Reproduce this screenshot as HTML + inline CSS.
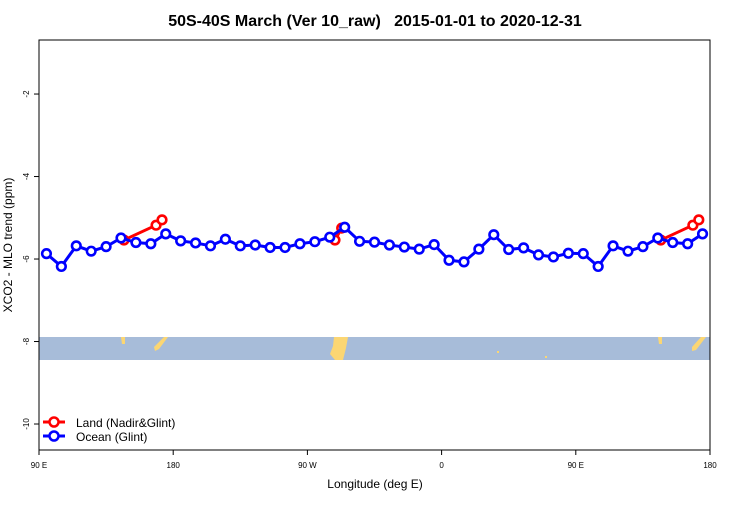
<!DOCTYPE html>
<html><head><meta charset="utf-8"><style>
body{margin:0;background:#fff;}
svg{font-family:"Liberation Sans",sans-serif;}
</style></head><body>
<svg id="chart" width="750" height="500">
<text x="375" y="26" text-anchor="middle" font-size="16" font-weight="bold" style="white-space:pre">50S-40S March (Ver 10_raw)   2015-01-01 to 2020-12-31</text>
<g>
<rect x="39" y="337" width="671" height="23" fill="#a7bcd9"/>
<polygon points="121,337 125,337 125,344 122,344" fill="#fbd673"/>
<polygon points="164,337 168,337 159,349 155,351 154,347" fill="#fbd673"/>
<polygon points="334,337 348,337 346,348 343,360 335,360 330,354 333,346" fill="#fbd673"/>
<polygon points="658,337 662,337 662,344 659,344" fill="#fbd673"/>
<polygon points="701,337 706,337 696,350 692,351 692,347" fill="#fbd673"/>
<rect x="497" y="351" width="2" height="2" fill="#fbd673"/>
<rect x="545" y="356" width="2" height="2" fill="#fbd673"/>
</g>
<rect x="39" y="40" width="671" height="410" fill="none" stroke="#000" stroke-width="1"/>
<g id="axes"></g>
<g id="series"></g>
<g>
<g>
<line x1="43" y1="422" x2="65" y2="422" stroke="#f00" stroke-width="3"/>
<circle cx="54" cy="422" r="4.5" fill="#fff" stroke="#f00" stroke-width="2.5"/>
<text x="76" y="427" font-size="12">Land (Nadir&amp;Glint)</text>
</g>
<g>
<line x1="43" y1="436" x2="65" y2="436" stroke="#00f" stroke-width="3"/>
<circle cx="54" cy="436" r="4.5" fill="#fff" stroke="#00f" stroke-width="2.5"/>
<text x="76" y="441" font-size="12">Ocean (Glint)</text>
</g>
</g>
<text x="375" y="488" text-anchor="middle" font-size="12">Longitude (deg E)</text>
<text transform="translate(12,245) rotate(-90)" text-anchor="middle" font-size="12">XCO2 - MLO trend (ppm)</text>
</svg>
<script>
const xTickVals=[90,180,270,360,450,540];
const xTickLabels=["90 E","180","90 W","0","90 E","180"];
const yTickVals=[-2,-4,-6,-8,-10];
const yTickLabels=["-2","-4","-6","-8","-10"];
const oceanLon=[95,105,115,125,135,145,155,165,175,185,195,205,215,225,235,245,255,265,275,285,295,305,315,325,335,345,355,365,375,385,395,405,415,425,435,445,455,465,475,485,495,505,515,525,535];
const oceanVal=[-5.87,-6.18,-5.68,-5.81,-5.70,-5.49,-5.60,-5.63,-5.39,-5.56,-5.61,-5.68,-5.52,-5.68,-5.66,-5.72,-5.72,-5.63,-5.58,-5.47,-5.23,-5.57,-5.59,-5.66,-5.71,-5.76,-5.65,-6.03,-6.07,-5.76,-5.41,-5.77,-5.73,-5.90,-5.95,-5.86,-5.87,-6.18,-5.68,-5.81,-5.70,-5.49,-5.60,-5.63,-5.39];
const landLon=[147,168.5,172.5,null,288.5,293,null,507,528.5,532.5];
const landVal=[-5.54,-5.18,-5.05,null,-5.54,-5.25,null,-5.54,-5.18,-5.05];
const NS="http://www.w3.org/2000/svg";
const X0=39,X1=710,Y0=40,Y1=450,LMIN=90,LMAX=540,VMIN=-10.63,VMAX=-0.69;
function sx(l){return X0+(l-LMIN)/(LMAX-LMIN)*(X1-X0);}
function sy(v){return Y1-(v-VMIN)/(VMAX-VMIN)*(Y1-Y0);}
function mk(t,a,p){const e=document.createElementNS(NS,t);for(const k in a)e.setAttribute(k,a[k]);p.appendChild(e);return e;}
const ax=document.getElementById('axes');
xTickVals.forEach((v,i)=>{
 const t=mk('line',{x1:sx(v),x2:sx(v),y1:450,y2:455,stroke:'#000'},ax);
 
 
 const l=mk('text',{x:sx(v),y:468,'text-anchor':'middle','font-size':'8'},ax);
 l.textContent=xTickLabels[i];
 
 
});
yTickVals.forEach((v,i)=>{
 const t=mk('line',{x1:34,x2:39,y1:sy(v),y2:sy(v),stroke:'#000'},ax);
 
 
 const l=mk('text',{transform:`translate(29,${sy(v)}) rotate(-90)`,'text-anchor':'middle','font-size':'8'},ax);
 l.textContent=yTickLabels[i];
 
 
});
const sg=document.getElementById('series');
function drawSeries(lons,vals,color,name){
 let seg=[];const segs=[];
 lons.forEach((l,i)=>{if(l===null){if(seg.length)segs.push(seg);seg=[];}else seg.push([sx(l),sy(vals[i])]);});
 if(seg.length)segs.push(seg);
 segs.forEach(s=>{
  const p=mk('polyline',{points:s.map(q=>q.join(',')).join(' '),fill:'none',stroke:color,'stroke-width':3,'stroke-linejoin':'round'},sg);
  
  
 });
 segs.forEach(s=>s.forEach(q=>{
  const c=mk('circle',{cx:q[0],cy:q[1],r:4.3,fill:'#fff',stroke:color,'stroke-width':2.6},sg);
  
  
 }));
}
drawSeries(landLon,landVal,'#f00','land');
drawSeries(oceanLon,oceanVal,'#00f','ocean');
</script>
</body></html>
